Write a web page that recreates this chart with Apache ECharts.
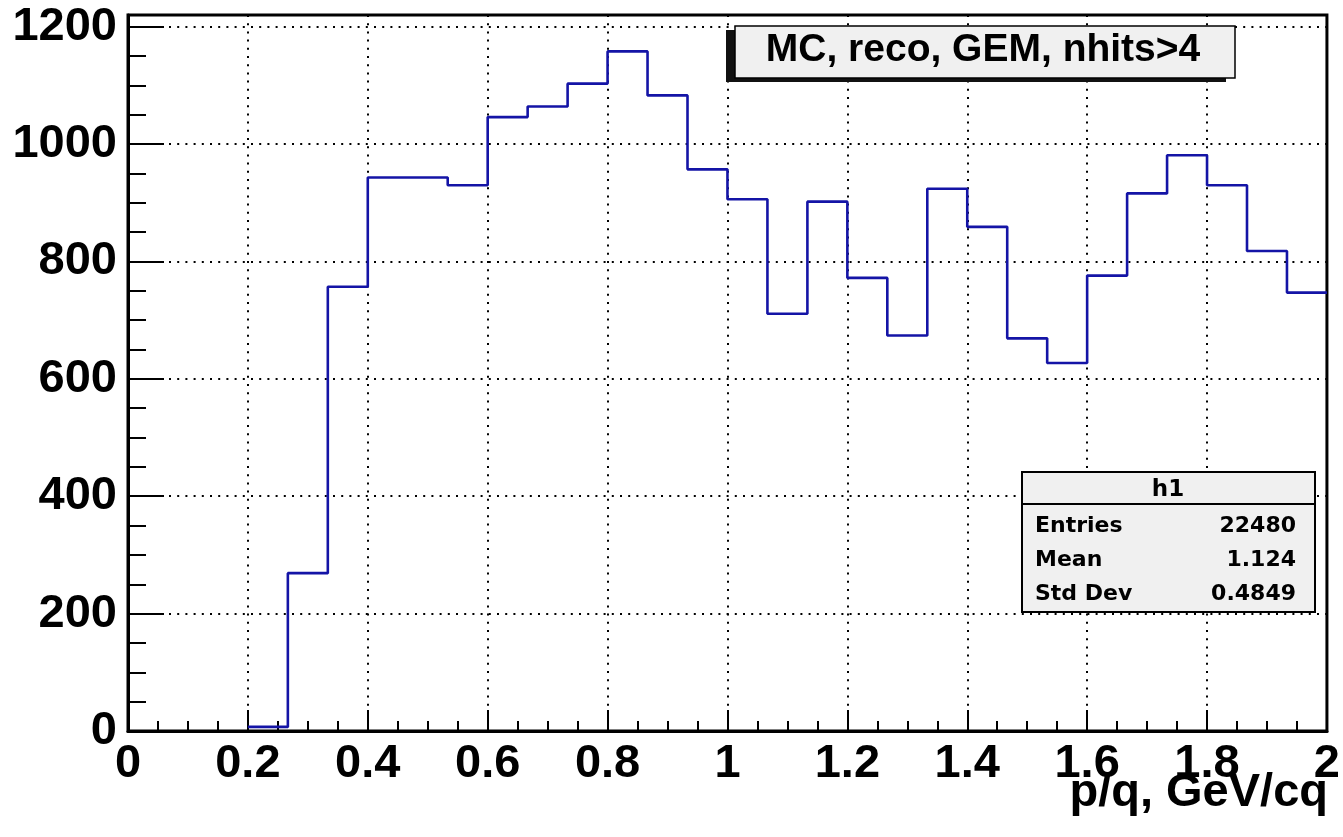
<!DOCTYPE html>
<html>
<head>
<meta charset="utf-8">
<script src="https://cdn.jsdelivr.net/npm/echarts@6/dist/echarts.min.js"></script>
<style>
html,body{margin:0;padding:0;background:#fff;}
#c{width:1343px;height:837px;}
</style>
</head>
<body>
<div id="c"></div>
<script>
// ---- data ----
const xMin = 0, xMax = 2, nBins = 30;
const counts = [0,0,0,7,269,757,943,943,930,1046,1064,1103,1158,1083,957,906,711,902,772,674,924,859,669,627,776,916,981,930,818,747];
const yTicks = [0,200,400,600,800,1000,1200];
const xTicks = [0,0.2,0.4,0.6,0.8,1,1.2,1.4,1.6,1.8,2];
const titleText = 'MC, reco, GEM, nhits>4';
const xTitle = 'p/q, GeV/cq';
const statsName = 'h1';
const statsLabels = ['Entries','Mean','Std Dev'];
const statsValues = ['22480','1.124','0.4849'];

// bin edges from the histogram definition
const binW = (xMax - xMin) / nBins;
const edges = [];
for (let i = 0; i <= nBins; i++) edges.push(xMin + i * binW);

// step outline points (left edge of each bin, plus final right edge)
let first = counts.findIndex(v => v > 0);
const pts = [];
for (let i = first; i < nBins; i++) pts.push([edges[i], counts[i]]);
pts.push([edges[nBins], counts[nBins - 1]]);

const chart = echarts.init(document.getElementById('c'), null, {renderer: 'canvas'});
const FONT = '"Liberation Sans", Arial, Helvetica, sans-serif';
const SFONT = '"DejaVu Sans", sans-serif';
const tickStyle = {color: '#000', width: 2};
const gridStyle = {color: '#000', width: 2, type: [2, 6.2]};

const statsGraphics = [];
statsGraphics.push({type: 'rect', shape: {x: 1022, y: 472, width: 293, height: 140}, style: {fill: '#f0f0f0', stroke: '#000', lineWidth: 2}, z: 10});
statsGraphics.push({type: 'line', shape: {x1: 1022, y1: 504, x2: 1315, y2: 504}, style: {stroke: '#000', lineWidth: 2}, z: 11});
statsGraphics.push({type: 'text', x: 1168, y: 490, style: {text: statsName, font: 'bold 23px ' + SFONT, fill: '#000', align: 'center', verticalAlign: 'middle'}, z: 11});
const rowY = [526, 560, 594];
statsLabels.forEach((t, i) => {
  statsGraphics.push({type: 'text', x: 1035, y: rowY[i], style: {text: t, font: 'bold 22px ' + SFONT, fill: '#000', align: 'left', verticalAlign: 'middle'}, z: 11});
  statsGraphics.push({type: 'text', x: 1296, y: rowY[i], style: {text: statsValues[i], font: 'bold 22px ' + SFONT, fill: '#000', align: 'right', verticalAlign: 'middle'}, z: 11});
});

chart.setOption({
  animation: false,
  backgroundColor: '#fff',
  grid: {left: 128, right: 15, top: 15, bottom: 106, show: true, borderColor: '#000', borderWidth: 3, backgroundColor: 'transparent'},
  xAxis: {
    type: 'value', min: xMin, max: xMax, interval: 0.2,
    axisLine: {show: true, onZero: false, lineStyle: {color: '#000', width: 3}},
    axisTick: {show: true, inside: true, length: 21, lineStyle: tickStyle},
    minorTick: {show: true, splitNumber: 4, length: 10, lineStyle: tickStyle},
    splitLine: {show: true, lineStyle: gridStyle},
    axisLabel: {
      margin: 10, color: '#000', fontFamily: FONT, fontWeight: 'bold', fontSize: 47,
      formatter: v => { const k = xTicks.find(t => Math.abs(t - v) < 1e-9); return k === undefined ? '' : String(k); }
    }
  },
  yAxis: {
    type: 'value', min: 0, max: 1220, interval: 200,
    axisLine: {show: true, onZero: false, lineStyle: {color: '#000', width: 3}},
    axisTick: {show: true, inside: true, length: 36, lineStyle: tickStyle},
    minorTick: {show: true, splitNumber: 4, length: 18, lineStyle: tickStyle},
    splitLine: {show: true, lineStyle: gridStyle},
    axisLabel: {
      margin: 11, color: '#000', fontFamily: FONT, fontWeight: 'bold', fontSize: 47, showMaxLabel: false,
      formatter: v => yTicks.indexOf(v) >= 0 ? String(v) : ''
    }
  },
  series: [{
    type: 'line', step: 'end', data: pts, symbol: 'none',
    lineStyle: {color: '#1414a6', width: 2.6}, z: 3
  }],
  graphic: [
    {type: 'rect', shape: {x: 726, y: 30, width: 500, height: 52}, style: {fill: '#111'}, z: 10},
    {type: 'rect', shape: {x: 735, y: 26, width: 500, height: 52}, style: {fill: '#f0f0f0', stroke: '#000', lineWidth: 1.5}, z: 11},
    {type: 'text', x: 983, y: 50, style: {text: titleText, font: 'bold 39px ' + FONT, fill: '#000', align: 'center', verticalAlign: 'middle'}, z: 12},
    {type: 'text', x: 1328, y: 793, style: {text: xTitle, font: 'bold 47px ' + FONT, fill: '#000', align: 'right', verticalAlign: 'middle'}, z: 12}
  ].concat(statsGraphics)
});
</script>
</body>
</html>
